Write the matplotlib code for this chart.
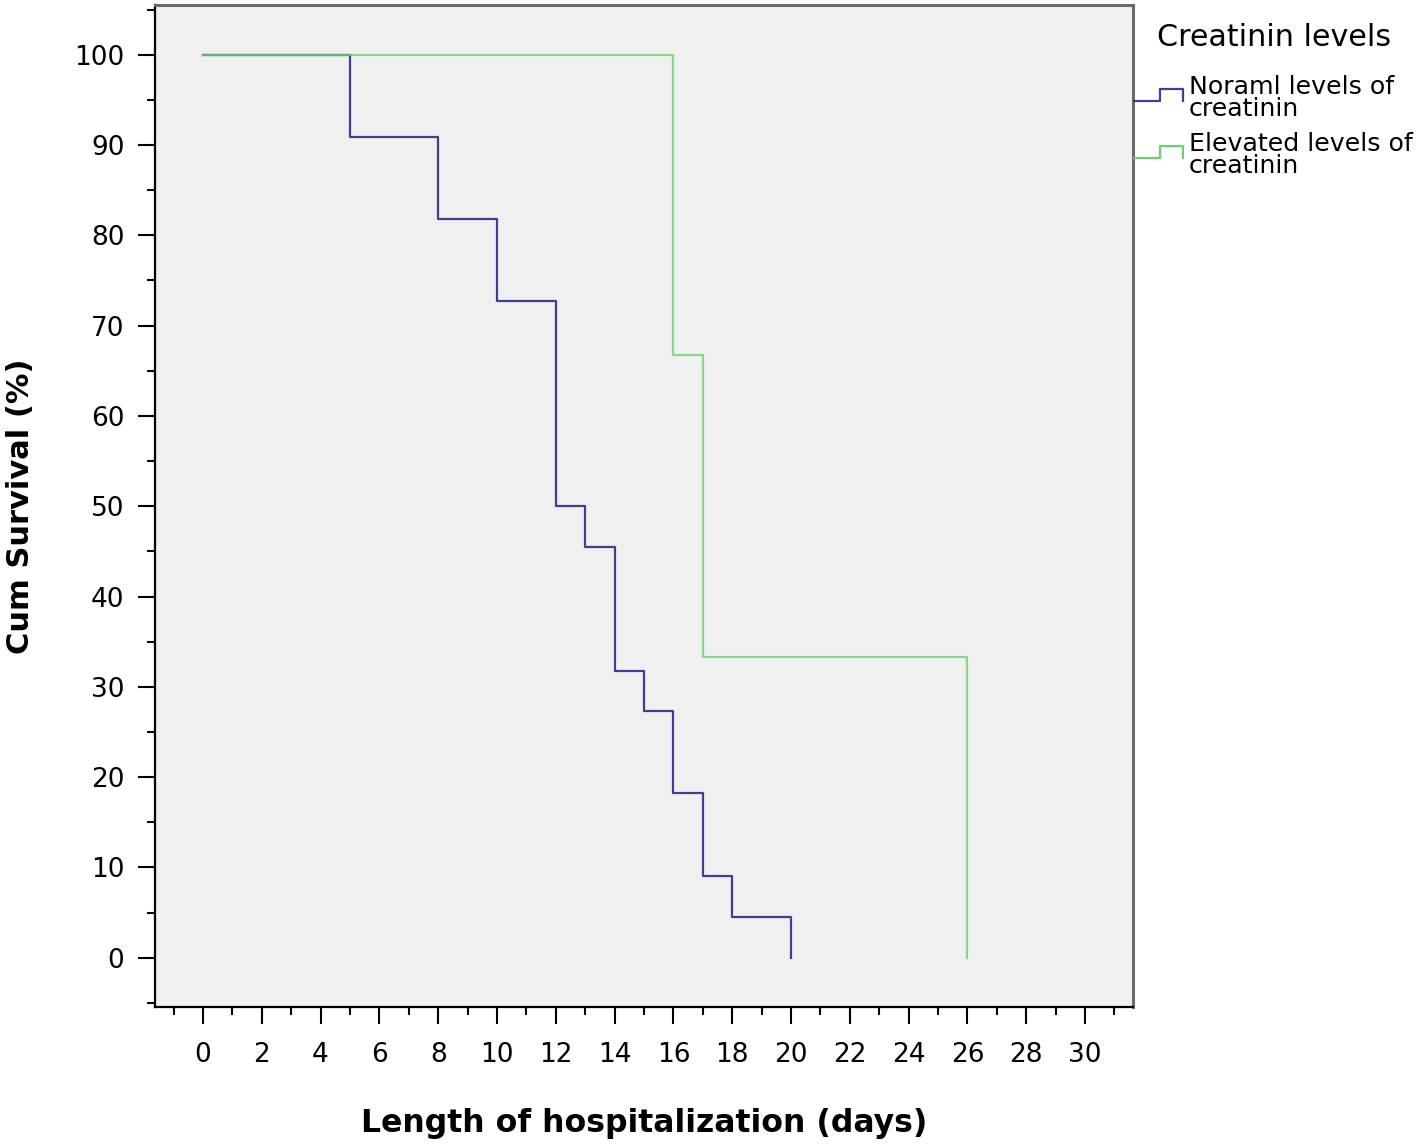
import matplotlib
matplotlib.use("Agg")
import matplotlib.pyplot as plt
from matplotlib.lines import Line2D
from matplotlib.ticker import MultipleLocator

plt.rcParams['font.family'] = ['DejaVu Sans']

# Kaplan-Meier step data (time in days, survival in %)
normal_t = [0, 5, 8, 10, 12, 13, 14, 15, 16, 17, 18, 20, 20]
normal_s = [100, 90.9, 81.8, 72.7, 50.0, 45.5, 31.8, 27.3, 18.2, 9.1, 4.5, 0, 0]
elev_t = [0, 16, 17, 26, 26]
elev_s = [100, 66.7, 33.3, 0, 0]

x_ticks = list(range(0, 31, 2))
y_ticks = list(range(0, 101, 10))
legend_title = "Creatinin levels"
legend_labels = ["Noraml levels of\ncreatinin", "Elevated levels of\ncreatinin"]
blue = "#3d3f8f"
green = "#6fcf6f"

fig = plt.figure(figsize=(14.18, 11.46), dpi=100)
ax = fig.add_axes([155/1418, 1 - 1007/1146, (1133-155)/1418, (1007-5)/1146])
ax.set_facecolor("#f0f0f0")

ax.step(normal_t, normal_s, where="post", color=blue, lw=1.6)
ax.step(elev_t, elev_s, where="post", color=green, lw=1.6, alpha=0.8)

ax.set_xlim(-1.63, 31.63)
ax.set_ylim(-5.45, 105.5)
ax.set_xticks(x_ticks)
ax.set_yticks(y_ticks)
ax.xaxis.set_minor_locator(MultipleLocator(1))
ax.yaxis.set_minor_locator(MultipleLocator(5))
ax.tick_params(which="major", direction="out", length=12, width=1.5, labelsize=19, pad=13)
ax.tick_params(axis="y", which="major", pad=10)
ax.tick_params(which="minor", direction="out", length=6, width=1.5)

for s in ["left", "bottom"]:
    ax.spines[s].set_color("black")
    ax.spines[s].set_linewidth(1.6)
for s in ["top", "right"]:
    ax.spines[s].set_color("#6a6a6a")
    ax.spines[s].set_linewidth(2.2)

ax.set_xlabel("Length of hospitalization (days)", fontsize=22.7, fontweight="bold", labelpad=29)
ax.set_ylabel("Cum Survival (%)", fontsize=22, fontweight="bold", labelpad=28)

# Legend (outside right)
W, H = 1418, 1146
def fx(x): return x / W
def fy(y): return 1 - y / H

fig.text(fx(1157), fy(38), legend_title, fontsize=21.7, va="center", ha="left")
for i, (lab, col) in enumerate(zip(legend_labels, [blue, green])):
    base = 101 + i * 57
    top = base - 12
    xs = [1134, 1160, 1160, 1183, 1183]
    ys = [base, base, top, top, base]
    fig.add_artist(Line2D([fx(v) for v in xs], [fy(v) for v in ys], color=col, lw=1.6,
                          transform=fig.transFigure))
    fig.text(fx(1189), fy(98 + i * 57), lab, fontsize=18.2, va="center", ha="left",
             linespacing=0.88)

fig.savefig("out.png", dpi=100)
